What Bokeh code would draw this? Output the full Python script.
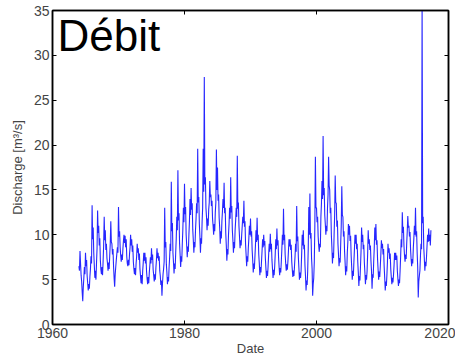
from bokeh.plotting import figure
from bokeh.models import LinearAxis, Range1d, Label, FixedTicker, CustomLabelingPolicy
from bokeh.embed import file_html
from bokeh.resources import INLINE

start_year = 1964.0
samples_per_year = 12
discharge = [
    6.5, 6.0, 8.2, 6.8, 5.5, 4.8, 3.6, 2.6, 4.2, 5.2, 6.4, 5.6,        # 1964
    8.0, 6.5, 7.2, 5.4, 4.6, 3.8, 4.5, 4.0, 5.3, 6.2, 7.6, 6.8,        # 1965
    13.3, 9.5, 10.8, 8.0, 6.6, 5.2, 6.0, 5.0, 6.8, 8.5, 12.7, 10.2,    # 1966
    11.0, 8.8, 9.6, 7.2, 6.1, 5.6, 6.4, 5.5, 7.0, 8.8, 12.0, 9.4,      # 1967
    10.5, 8.3, 9.0, 7.4, 6.8, 6.0, 6.9, 6.2, 7.6, 9.0, 11.5, 9.2,      # 1968
    9.0, 7.8, 8.4, 6.5, 5.2, 4.2, 5.6, 6.4, 7.2, 7.9, 8.6, 8.0,        # 1969
    13.1, 9.8, 10.4, 8.6, 7.7, 7.0, 7.8, 7.2, 8.4, 9.3, 10.0, 9.1,     # 1970
    9.9, 8.6, 9.5, 7.6, 6.8, 6.5, 7.2, 6.6, 7.8, 8.6, 10.0, 8.8,       # 1971
    9.5, 8.1, 8.8, 7.0, 6.2, 5.6, 6.3, 5.5, 6.8, 7.6, 9.0, 8.0,        # 1972
    8.5, 7.2, 7.9, 6.2, 5.4, 4.6, 5.5, 4.5, 6.0, 6.9, 8.0, 7.1,        # 1973
    8.0, 6.8, 7.5, 5.9, 5.1, 4.5, 5.3, 4.6, 5.8, 6.6, 7.5, 6.8,        # 1974
    8.5, 7.2, 7.8, 6.1, 5.5, 4.8, 5.6, 5.0, 6.3, 7.2, 8.5, 7.4,        # 1975
    8.0, 7.1, 7.6, 6.0, 5.4, 4.4, 4.9, 3.2, 4.6, 5.6, 6.2, 7.0,        # 1976
    13.0, 8.6, 9.2, 6.7, 5.8, 4.5, 5.3, 4.8, 6.4, 7.5, 9.0, 8.2,       # 1977
    15.9, 10.4, 11.3, 8.0, 6.9, 5.7, 6.8, 6.2, 8.0, 9.6, 12.0, 10.5,   # 1978
    17.2, 11.6, 12.4, 9.1, 7.8, 6.4, 7.6, 7.0, 9.0, 10.6, 13.0, 11.4,  # 1979
    15.7, 12.3, 13.1, 10.0, 8.8, 7.5, 8.7, 8.1, 10.0, 11.5, 14.0, 12.2,  # 1980
    15.2, 12.8, 13.5, 10.6, 9.4, 8.0, 9.2, 8.6, 10.5, 11.8, 13.5, 12.4,  # 1981
    19.6, 13.6, 14.2, 11.2, 9.8, 8.0, 9.6, 9.0, 11.4, 13.0, 19.6, 14.8,  # 1982
    27.6, 15.6, 16.4, 13.0, 12.0, 10.5, 11.8, 11.0, 12.8, 13.6, 16.0, 14.2,  # 1983
    14.5, 13.2, 13.8, 11.8, 11.0, 10.0, 11.2, 10.4, 12.5, 13.6, 19.5, 15.0,  # 1984
    17.5, 13.8, 14.5, 11.9, 10.8, 9.0, 10.4, 9.6, 11.5, 12.6, 14.0, 13.0,   # 1985
    15.8, 12.4, 13.0, 10.2, 8.8, 7.1, 8.4, 7.8, 10.0, 11.2, 13.0, 11.8,     # 1986
    16.4, 12.5, 13.2, 10.5, 9.4, 8.0, 9.2, 8.5, 10.5, 11.6, 13.0, 12.0,     # 1987
    18.8, 12.9, 13.6, 11.0, 9.8, 8.5, 9.4, 8.8, 10.0, 11.0, 12.0, 11.3,     # 1988
    13.8, 10.9, 11.5, 9.0, 7.8, 6.5, 7.6, 7.0, 8.5, 9.6, 11.0, 10.0,        # 1989
    11.8, 9.8, 10.4, 8.3, 7.2, 5.8, 6.8, 6.2, 7.5, 8.8, 10.5, 9.2,          # 1990
    11.9, 9.4, 10.0, 7.8, 6.8, 5.5, 6.4, 5.8, 7.0, 8.2, 9.5, 8.6,           # 1991
    10.0, 8.8, 9.3, 7.4, 6.3, 5.2, 6.0, 5.4, 6.5, 7.8, 9.0, 8.1,            # 1992
    10.1, 8.4, 9.0, 7.2, 6.2, 5.2, 6.1, 5.5, 6.5, 7.9, 9.5, 8.4,            # 1993
    10.7, 8.8, 9.4, 7.5, 6.4, 5.5, 6.3, 5.8, 7.0, 8.4, 10.0, 8.9,           # 1994
    12.9, 9.4, 10.0, 7.8, 6.8, 6.0, 6.7, 6.1, 7.0, 8.2, 9.5, 8.7,           # 1995
    9.5, 8.3, 8.9, 7.0, 6.1, 5.3, 6.0, 5.4, 6.5, 7.6, 9.0, 8.1,             # 1996
    13.2, 9.3, 9.8, 7.5, 6.3, 5.0, 5.8, 5.2, 6.0, 7.8, 10.0, 8.8,           # 1997
    10.5, 8.4, 8.9, 6.6, 5.4, 3.8, 4.9, 4.4, 6.0, 8.5, 13.1, 10.0,          # 1998
    14.6, 9.6, 10.2, 7.4, 6.2, 3.2, 4.5, 5.2, 7.0, 11.0, 18.7, 13.0,        # 1999
    13.0, 11.4, 12.0, 9.8, 8.8, 8.1, 9.0, 8.6, 12.0, 13.5, 16.0, 14.0,      # 2000
    21.0, 14.4, 15.2, 12.2, 11.2, 10.0, 11.0, 10.4, 13.0, 14.5, 18.7, 15.5, # 2001
    15.0, 12.4, 13.0, 10.0, 8.6, 6.8, 8.0, 7.4, 10.0, 12.2, 16.6, 13.6,     # 2002
    13.5, 10.9, 11.6, 9.0, 7.8, 6.5, 7.4, 6.9, 9.0, 11.0, 15.4, 12.2,       # 2003
    12.0, 9.8, 10.4, 8.2, 6.9, 5.5, 6.5, 5.9, 8.0, 9.2, 11.2, 10.0,         # 2004
    11.0, 9.3, 9.9, 7.7, 6.4, 5.0, 6.0, 5.4, 7.0, 8.4, 10.0, 9.0,           # 2005
    10.0, 8.4, 9.0, 7.0, 5.8, 4.3, 5.4, 4.9, 6.5, 8.2, 10.8, 9.2,           # 2006
    10.0, 8.4, 8.9, 6.9, 5.8, 4.5, 5.5, 5.0, 6.0, 7.9, 10.5, 9.0,           # 2007
    9.5, 8.3, 8.8, 7.1, 6.0, 4.0, 5.6, 5.2, 7.0, 8.5, 10.8, 9.4,            # 2008
    11.2, 8.9, 9.4, 7.3, 6.1, 5.0, 5.9, 5.3, 6.5, 7.8, 9.4, 8.5,            # 2009
    9.0, 7.8, 8.4, 6.5, 5.2, 3.8, 4.8, 4.3, 5.5, 7.0, 9.0, 8.0,             # 2010
    8.5, 7.3, 7.9, 6.2, 5.3, 4.5, 5.2, 4.7, 5.5, 6.6, 8.0, 7.2,             # 2011
    8.0, 7.2, 7.7, 6.0, 5.1, 4.3, 5.0, 4.6, 6.0, 7.6, 9.5, 8.6,             # 2012
    12.5, 10.2, 10.9, 8.8, 7.7, 7.0, 7.8, 7.3, 9.0, 10.4, 12.1, 10.8,       # 2013
    11.0, 9.8, 10.3, 8.4, 7.3, 6.5, 7.3, 6.8, 8.5, 9.6, 11.0, 10.0,         # 2014
    13.0, 9.8, 10.4, 8.0, 6.4, 3.0, 4.8, 5.4, 6.0, 7.6, 9.0, 8.4,           # 2015
    36.0, 11.3, 12.0, 8.6, 7.4, 6.0, 7.0, 6.5, 7.5, 8.8, 10.0, 9.2,         # 2016
    10.7, 9.3, 10.0, 8.8, 10.5,                                             # 2017
]
dates = [start_year + i / samples_per_year for i in range(len(discharge))]

x_ticks = [1960, 1980, 2000, 2020]
y_ticks = [0, 5, 10, 15, 20, 25, 30, 35]

title_text = "Débit"
x_label = "Date"
y_label = "Discharge [m³/s]"

p = figure(width=455, height=359, output_backend="svg", toolbar_location=None,
           x_range=Range1d(1960, 2020), y_range=Range1d(0, 35),
           min_border_left=52, min_border_right=7, min_border_top=10, min_border_bottom=35,
           background_fill_color="white", border_fill_color="white")
p.grid.visible = False
p.outline_line_color = "black"
p.outline_line_width = 1.5

p.line(dates, discharge, line_color="#0000ff", line_width=1.1, line_alpha=0.85)

font = "Liberation Sans"
for ax in (p.xaxis[0], p.yaxis[0]):
    ax.axis_line_color = "black"
    ax.axis_line_width = 1.5
    ax.major_tick_in = 4
    ax.major_tick_out = 0
    ax.minor_tick_line_color = None
    ax.major_label_text_font = font
    ax.major_label_text_font_size = "14px"
    ax.axis_label_text_font = font
    ax.axis_label_text_font_size = "13px"
    ax.axis_label_text_font_style = "normal"
    ax.major_label_standoff = 3

p.xaxis[0].ticker = FixedTicker(ticks=x_ticks)
p.yaxis[0].ticker = FixedTicker(ticks=y_ticks)
p.xaxis[0].axis_label = x_label
p.yaxis[0].axis_label = y_label
p.xaxis[0].axis_label_standoff = 0
p.yaxis[0].axis_label_standoff = 6

hide_all = """
for (const i of indices)
    indices.unset(i)
return indices
"""
top = LinearAxis(ticker=FixedTicker(ticks=x_ticks), major_label_text_font_size="1px",
                 major_label_policy=CustomLabelingPolicy(code=hide_all),
                 major_tick_in=4, major_tick_out=0, minor_tick_line_color=None,
                 axis_line_width=1.5, major_label_standoff=0)
right = LinearAxis(ticker=FixedTicker(ticks=y_ticks), major_label_text_font_size="1px",
                   major_label_policy=CustomLabelingPolicy(code=hide_all),
                   major_tick_in=4, major_tick_out=0, minor_tick_line_color=None,
                   axis_line_width=1.5, major_label_standoff=0)
p.add_layout(top, "above")
p.add_layout(right, "right")

p.add_layout(Label(x=1960.75, y=32.2, text=title_text, text_font=font,
                   text_font_size="44px", text_color="black", text_baseline="alphabetic"))

open("out.html", "w").write(file_html(p, INLINE))
